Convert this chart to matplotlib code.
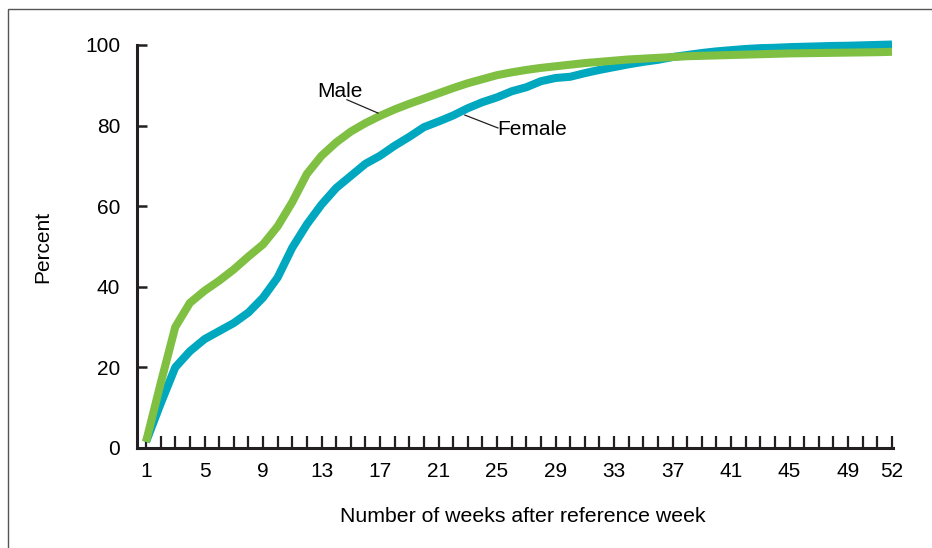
import numpy as np
import matplotlib
matplotlib.use('Agg')
import matplotlib.pyplot as plt
from matplotlib.patches import Rectangle

plt.rcParams['font.family'] = ['Liberation Sans', 'DejaVu Sans']

# Cumulative percent by number of weeks after reference week
weeks = np.arange(1, 53)
male = [1.5, 16, 30, 36, 39, 41.5, 44.3, 47.5, 50.5, 55,
        61, 68, 72.5, 75.8, 78.5, 80.6, 82.4, 84, 85.4, 86.7,
        88, 89.3, 90.5, 91.5, 92.5, 93.2, 93.8, 94.3, 94.7, 95.1,
        95.5, 95.8, 96.1, 96.4, 96.6, 96.8, 97, 97.2, 97.3, 97.4,
        97.5, 97.6, 97.7, 97.8, 97.9, 97.95, 98, 98.05, 98.1, 98.15,
        98.2, 98.3]
female = [1.5, 11, 20, 24, 27, 29, 31, 33.6, 37.3, 42.3,
          49.7, 55.5, 60.4, 64.5, 67.5, 70.5, 72.5, 75, 77.2, 79.6,
          81, 82.5, 84.3, 85.8, 87, 88.5, 89.5, 91, 91.8, 92.1,
          93, 93.8, 94.5, 95.2, 95.8, 96.3, 97, 97.5, 98, 98.4,
          98.7, 99, 99.2, 99.3, 99.45, 99.55, 99.65, 99.75, 99.8, 99.9,
          100, 100.1]
week_labels = [1, 5, 9, 13, 17, 21, 25, 29, 33, 37, 41, 45, 49, 52]
y_ticks = [0, 20, 40, 60, 80, 100]

green = '#7FBF42'
blue = '#00A8BF'

fig = plt.figure(figsize=(9.32, 5.48), dpi=100)
ax = fig.add_axes([0.147, 0.1825, 0.811, 0.7355])

ax.plot(weeks, female, color=blue, lw=5.8, solid_capstyle='butt', clip_on=False, zorder=3)
ax.plot(weeks, male, color=green, lw=5.8, solid_capstyle='butt', clip_on=False, zorder=4)

ax.set_xlim(0.385, 52.06)
ax.set_ylim(0, 100)

ax.set_xticks(weeks)
ax.set_xticklabels([str(w) if w in week_labels else '' for w in weeks])
ax.set_yticks(y_ticks)

for side in ['top', 'right']:
    ax.spines[side].set_visible(False)
for side in ['left', 'bottom']:
    ax.spines[side].set_linewidth(2.2)
    ax.spines[side].set_color('#231f20')

ax.tick_params(axis='x', direction='in', length=9, width=1.6, color='#231f20',
               pad=10, labelsize=15)
ax.tick_params(axis='y', direction='in', length=7, width=1.8, color='#231f20',
               pad=12, labelsize=15)

ax.set_xlabel('Number of weeks after reference week', fontsize=15.3,
              labelpad=19, x=0.511)
ax.set_ylabel('Percent', fontsize=15, labelpad=24)

# line labels with leader lines
ax.text(14.26, 88.4, 'Male', fontsize=15, ha='center', va='center')
ax.plot([14.74, 16.86], [86.4, 83.1], color='#231f20', lw=0.9, zorder=5)
ax.text(25.0, 78.9, 'Female', fontsize=15, ha='left', va='center')
ax.plot([22.8, 25.06], [82.6, 79.4], color='#231f20', lw=0.9, zorder=5)

# outer frame
fig.patches.append(Rectangle((8 / 932, -0.1), 1.2, (548 - 9) / 548 + 0.1,
                             transform=fig.transFigure, fill=False,
                             edgecolor='#555555', lw=1.0))

fig.savefig('out.png', dpi=100)
